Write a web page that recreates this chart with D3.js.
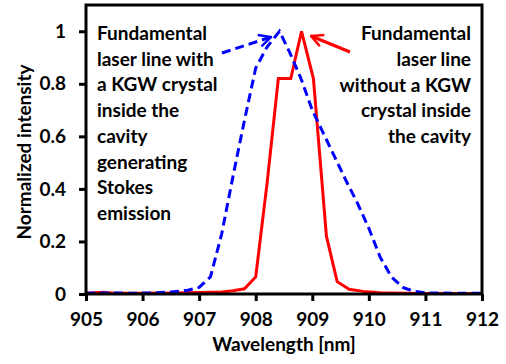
<!DOCTYPE html>
<html>
<head>
<meta charset="utf-8">
<script src="https://cdn.jsdelivr.net/npm/d3@7"></script>
<style>
  body { margin: 0; background: #fff; }
  text { font-family: Lato, "Open Sans", sans-serif; font-weight: bold; fill: #000; }
</style>
</head>
<body>
<div id="chart"></div>
<script>
// frame constants
const FRAME_WIDTH = 506;
const FRAME_HEIGHT = 364;
const MARGINS = {left: 86, right: 24, top: 5, bottom: 70};

const VIS_WIDTH = FRAME_WIDTH - MARGINS.left - MARGINS.right;
const VIS_HEIGHT = FRAME_HEIGHT - MARGINS.top - MARGINS.bottom;

const FONT = "19px";

// data: [wavelength nm, normalized intensity]
const withoutKGW = [[905, 0.003], [905.3, 0.007], [905.5, 0.003], [906, 0.003], [906.5, 0.004],
  [907, 0.006], [907.4, 0.008], [907.6, 0.012], [907.8, 0.02], [908.0, 0.065], [908.2, 0.42],
  [908.4, 0.82], [908.62, 0.82], [908.81, 1.0], [909.02, 0.82], [909.25, 0.22], [909.44, 0.047],
  [909.65, 0.018], [909.9, 0.01], [910.2, 0.005], [910.6, 0.003], [911, 0.002], [912, 0.002]];

const withKGW = [[905, 0.003], [905.4, 0.004], [905.8, 0.003], [906.2, 0.004], [906.5, 0.008],
  [906.8, 0.014], [907.0, 0.025], [907.2, 0.065], [907.4, 0.23], [907.6, 0.45], [907.8, 0.66],
  [908.0, 0.86], [908.2, 0.94], [908.42, 1.0], [908.6, 0.92], [908.8, 0.82], [909.0, 0.7],
  [909.2, 0.61], [909.4, 0.52], [909.6, 0.43], [909.8, 0.345], [910.0, 0.25], [910.2, 0.14],
  [910.4, 0.065], [910.6, 0.025], [910.8, 0.01], [911, 0.004], [911.5, 0.003], [912, 0.003]];

const xTicks = [905, 906, 907, 908, 909, 910, 911, 912];
const yTicks = [0, 0.2, 0.4, 0.6, 0.8, 1];

const leftLabel = ["Fundamental", "laser line with", "a KGW crystal", "inside the",
  "cavity", "generating", "Stokes", "emission"];
const rightLabel = ["Fundamental", "laser line", "without a KGW", "crystal inside", "the cavity"];

const FRAME = d3.select("#chart")
  .append("svg")
  .attr("width", FRAME_WIDTH)
  .attr("height", FRAME_HEIGHT);

const X_SCALE = d3.scaleLinear().domain([905, 912]).range([MARGINS.left, MARGINS.left + VIS_WIDTH]);
const Y_SCALE = d3.scaleLinear().domain([0, 1.1]).range([MARGINS.top + VIS_HEIGHT, MARGINS.top]);

// arrow heads
const defs = FRAME.append("defs");
[["redHead", "#ff0000"], ["blueHead", "#0000ff"]].forEach(([id, c]) => {
  defs.append("marker")
    .attr("id", id)
    .attr("viewBox", "0 0 10 10")
    .attr("refX", 9).attr("refY", 5)
    .attr("markerWidth", 5).attr("markerHeight", 5)
    .attr("markerUnits", "strokeWidth")
    .attr("orient", "auto")
    .append("path")
    .attr("d", "M1,1 L9,5 L1,9")
    .attr("fill", "none")
    .attr("stroke", c)
    .attr("stroke-width", 1.6);
});

const line = d3.line()
  .x(d => X_SCALE(d[0]))
  .y(d => Y_SCALE(d[1]));

// red solid line
FRAME.append("path")
  .datum(withoutKGW)
  .attr("d", line)
  .attr("fill", "none")
  .attr("stroke", "#ff0000")
  .attr("stroke-width", 3);

// blue dashed line
FRAME.append("path")
  .datum(withKGW)
  .attr("d", line)
  .attr("fill", "none")
  .attr("stroke", "#0000ff")
  .attr("stroke-width", 3)
  .attr("stroke-dasharray", "9,5");

// x axis
const xAxis = FRAME.append("g")
  .attr("transform", "translate(0," + (MARGINS.top + VIS_HEIGHT) + ")")
  .call(d3.axisBottom(X_SCALE).tickValues(xTicks).tickSize(7).tickPadding(12).tickFormat(d3.format("d")));

// y axis
const yAxis = FRAME.append("g")
  .attr("transform", "translate(" + MARGINS.left + ",0)")
  .call(d3.axisLeft(Y_SCALE).tickValues(yTicks).tickSize(7).tickPadding(13).tickFormat(d => d));

[xAxis, yAxis].forEach(a => {
  a.select(".domain").remove();
  a.selectAll(".tick line").attr("stroke", "#000").attr("stroke-width", 3);
  a.selectAll(".tick text").style("font-size", FONT);
});

// plot box
FRAME.append("rect")
  .attr("x", MARGINS.left)
  .attr("y", MARGINS.top)
  .attr("width", VIS_WIDTH)
  .attr("height", VIS_HEIGHT)
  .attr("fill", "none")
  .attr("stroke", "#000")
  .attr("stroke-width", 3);

// axis titles
FRAME.append("text")
  .attr("x", MARGINS.left + VIS_WIDTH / 2)
  .attr("y", 351)
  .attr("text-anchor", "middle")
  .style("font-size", FONT)
  .text("Wavelength [nm]");

FRAME.append("text")
  .attr("transform", "translate(31,152) rotate(-90)")
  .attr("text-anchor", "middle")
  .style("font-size", FONT)
  .text("Normalized intensity");

// annotations
FRAME.append("text")
  .attr("x", 97)
  .attr("y", 40)
  .style("font-size", FONT)
  .selectAll("tspan")
  .data(leftLabel)
  .enter()
  .append("tspan")
  .attr("x", 97)
  .attr("dy", (d, i) => i === 0 ? 0 : 25.7)
  .text(d => d);

FRAME.append("text")
  .attr("x", 471)
  .attr("y", 40)
  .attr("text-anchor", "end")
  .style("font-size", FONT)
  .selectAll("tspan")
  .data(rightLabel)
  .enter()
  .append("tspan")
  .attr("x", 471)
  .attr("dy", (d, i) => i === 0 ? 0 : 25.75)
  .text(d => d);

// arrows
FRAME.append("line")
  .attr("x1", 222).attr("y1", 53)
  .attr("x2", 271).attr("y2", 37)
  .attr("stroke", "#0000ff")
  .attr("stroke-width", 3)
  .attr("stroke-dasharray", "9,5")
  .attr("marker-end", "url(#blueHead)");

FRAME.append("line")
  .attr("x1", 350).attr("y1", 52)
  .attr("x2", 311).attr("y2", 36)
  .attr("stroke", "#ff0000")
  .attr("stroke-width", 3)
  .attr("marker-end", "url(#redHead)");
</script>
</body>
</html>
